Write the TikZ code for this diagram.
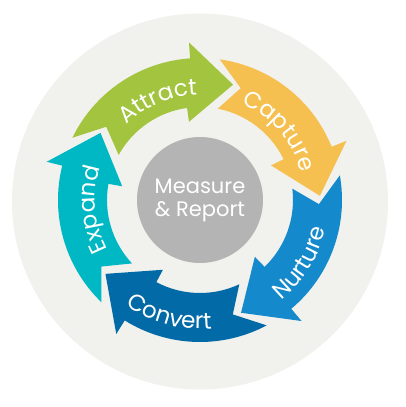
\documentclass[tikz,border=0pt]{standalone}
\usepackage{fontspec}
\setmainfont{Poppins}
\usetikzlibrary{decorations.text}

\definecolor{discgray}{RGB}{241,241,237}
\definecolor{centergray}{RGB}{180,180,180}
\definecolor{attractgreen}{RGB}{162,196,62}
\definecolor{captureorange}{RGB}{246,192,80}
\definecolor{nurtureblue}{RGB}{20,137,204}
\definecolor{convertblue}{RGB}{3,106,168}
\definecolor{expandteal}{RGB}{0,184,196}
\newcommand\ringfont{\fontsize{23}{23}\selectfont}

\begin{document}
\begin{tikzpicture}[
    x=1pt, y=1pt,
    pics/cyclearrow/.style args={#1/#2}{code={
        \fill[#2] (#1:142) arc[start angle=#1, end angle=#1-60, radius=142]
            -- ({#1-60}:158) -- ({#1-80}:120) -- ({#1-56}:79) -- ({#1-56}:93)
            arc[start angle=#1-56, end angle=#1-3, radius=93]
            -- ({#1-12}:119) -- cycle;
    }},
    ring label/.style={decorate, decoration={text along path, text align=center,
        text color=white, text={|\ringfont|#1}}}
]
\useasboundingbox (-200,-207) rectangle (205,200);
\fill[discgray] (0,-1.5) circle[radius=188];

\pic (attract_arrow) {cyclearrow=154/attractgreen};
\pic (capture_arrow) {cyclearrow=82/captureorange};
\pic (nurture_arrow) {cyclearrow=10/nurtureblue};
\pic (convert_arrow) {cyclearrow=-62/convertblue};
\pic (expand_arrow) {cyclearrow=226/expandteal};

\node (measure_report) [circle, fill=centergray, minimum size=126, inner sep=0,
    text=white, align=center, font=\fontsize{21}{23}\selectfont] {Measure\\\& Report};

\path[ring label=Attract] (148:105) arc[start angle=148, end angle=78, radius=105];
\path[ring label=Capture] (76:105) arc[start angle=76, end angle=6, radius=105];
\path[ring label=Nurture] (-68:129) arc[start angle=-68, end angle=4, radius=129];
\path[ring label=Convert] (-140:129) arc[start angle=-140, end angle=-70, radius=129];
\path[ring label=Expand] (220:105) arc[start angle=220, end angle=150, radius=105];
\end{tikzpicture}
\end{document}
